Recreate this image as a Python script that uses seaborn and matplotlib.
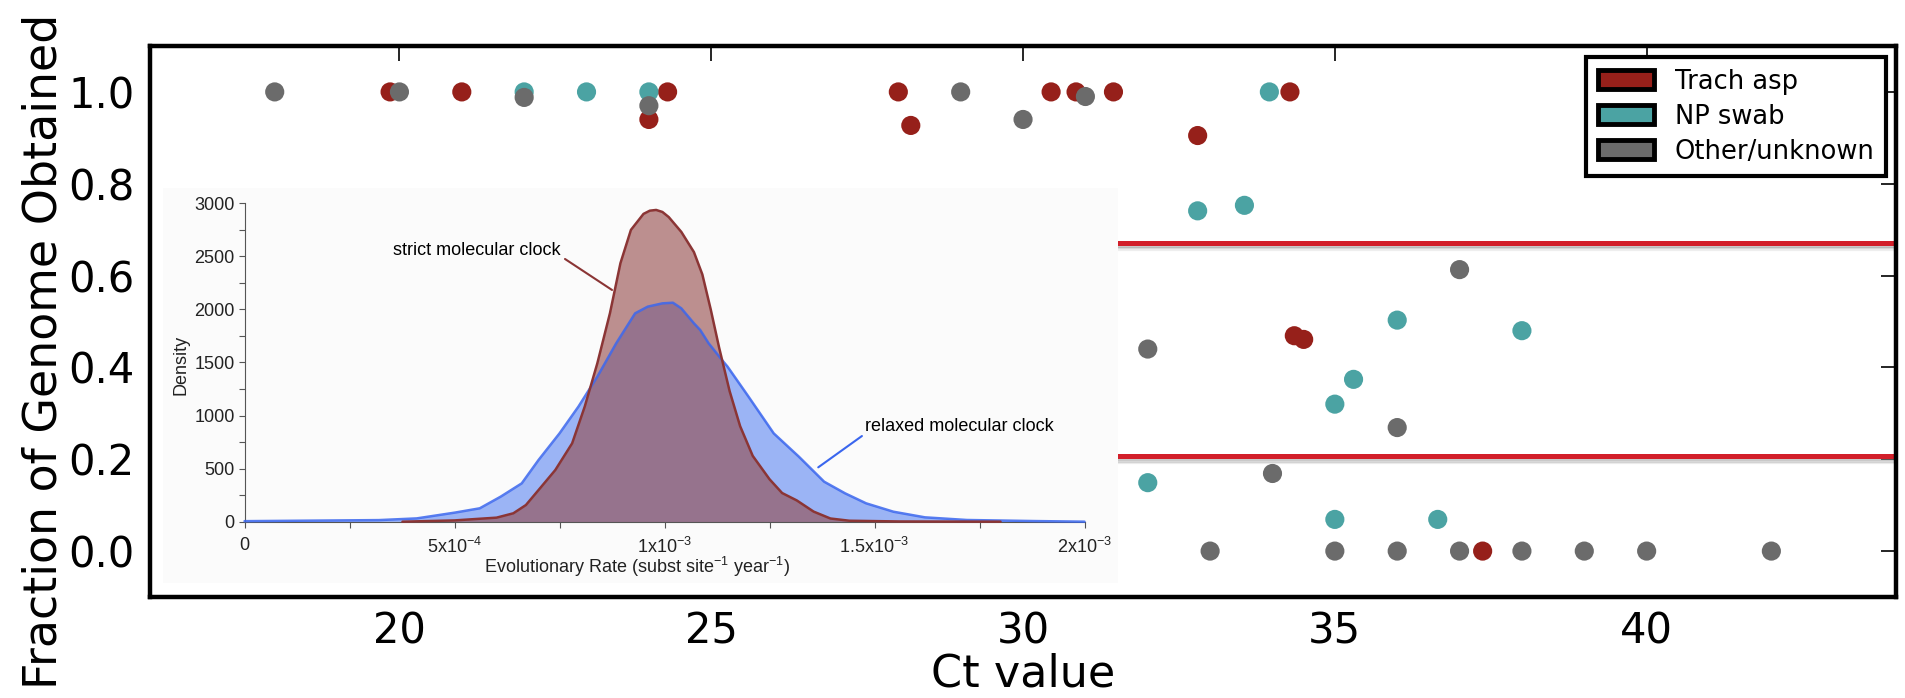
import numpy as np
import pandas as pd
import matplotlib
matplotlib.use("Agg")
import matplotlib.pyplot as plt
import seaborn as sns
from matplotlib.patches import Patch
from matplotlib.ticker import MultipleLocator

# main panel: fraction of genome obtained vs Ct value, by sample type
trach_ct = [19.85, 21.0, 24.3, 24.0, 28.0, 28.2, 30.45, 30.85, 31.45, 32.8, 34.28, 34.35, 34.5, 37.37]
trach_frac = [1.0, 1.0, 1.0, 0.94, 1.0, 0.927, 1.0, 1.0, 1.0, 0.905, 1.0, 0.469, 0.461, 0.0]

np_ct = [22.0, 23.0, 24.0, 33.95, 32.8, 33.55, 36.0, 38.0, 35.3, 35.0, 32.0, 35.0, 36.65]
np_frac = [1.0, 1.0, 1.0, 1.0, 0.741, 0.753, 0.503, 0.480, 0.374, 0.320, 0.149, 0.069, 0.069]

other_ct = [18.0, 20.0, 22.0, 24.0, 29.0, 30.0, 31.0, 37.0, 32.0, 36.0, 34.0,
            33.0, 35.0, 36.0, 37.0, 38.0, 39.0, 40.0, 42.0]
other_frac = [1.0, 1.0, 0.988, 0.97, 1.0, 0.94, 0.99, 0.613, 0.440, 0.269, 0.169,
              0.0, 0.0, 0.0, 0.0, 0.0, 0.0, 0.0, 0.0]

sources = ["Trach asp", "NP swab", "Other/unknown"]
source_colors = ["#96201A", "#4BA3A3", "#6B6B6B"]
cutoffs = [0.672, 0.208]

# inset: posterior density of evolutionary rate (rate in units of 1e-3)
strict_rate = [0.376, 0.50, 0.60, 0.64, 0.67, 0.70, 0.74, 0.78, 0.81, 0.84, 0.87, 0.895,
               0.92, 0.95, 0.965, 0.98, 0.995, 1.01, 1.04, 1.07, 1.09, 1.11, 1.13, 1.155,
               1.18, 1.21, 1.25, 1.28, 1.315, 1.355, 1.395, 1.44, 1.56, 1.80]
strict_density = [0, 12, 38, 79, 157, 298, 487, 738, 1084, 1492, 1963, 2435,
                  2749, 2900, 2930, 2937, 2918, 2870, 2730, 2540, 2330, 2000, 1640, 1230,
                  900, 620, 400, 270, 200, 95, 30, 9, 2, 0]

relaxed_rate = [0.0, 0.32, 0.41, 0.50, 0.56, 0.61, 0.66, 0.70, 0.75, 0.795, 0.84, 0.885,
                0.93, 0.96, 0.995, 1.02, 1.04, 1.07, 1.085, 1.105, 1.14, 1.15, 1.20, 1.26,
                1.32, 1.38, 1.43, 1.48, 1.545, 1.62, 1.72, 1.88, 2.0]
relaxed_density = [5, 15, 31, 85, 126, 236, 361, 581, 832, 1084, 1366, 1681,
                   1963, 2026, 2057, 2063, 2010, 1869, 1806, 1681, 1508, 1461, 1178, 832,
                   612, 377, 267, 173, 94, 41, 16, 6, 0]

rate_ticks = [0, 0.5, 1.0, 1.5, 2.0]
rate_labels = ["0", r"5x10$^{-4}$", r"1x10$^{-3}$", r"1.5x10$^{-3}$", r"2x10$^{-3}$"]

sns.set_style("white")
plt.rcParams["font.family"] = ["DejaVu Sans"]
plt.rcParams["text.color"] = "black"
plt.rcParams["axes.labelcolor"] = "black"
plt.rcParams["xtick.color"] = "black"
plt.rcParams["ytick.color"] = "black"
plt.rcParams["mathtext.fontset"] = "custom"
plt.rcParams["mathtext.rm"] = "Liberation Sans"
plt.rcParams["mathtext.it"] = "Liberation Sans:italic"

fig = plt.figure(figsize=(19.06, 6.98), dpi=100)
ax = fig.add_axes([0.0787, 0.1447, 0.9161, 0.7894])

df = pd.concat([
    pd.DataFrame({"ct": trach_ct, "frac": trach_frac, "source": sources[0]}),
    pd.DataFrame({"ct": np_ct, "frac": np_frac, "source": sources[1]}),
    pd.DataFrame({"ct": other_ct, "frac": other_frac, "source": sources[2]}),
], ignore_index=True)

sns.scatterplot(data=df, x="ct", y="frac", hue="source", hue_order=sources,
                palette=dict(zip(sources, source_colors)), s=190, linewidth=0,
                alpha=1, legend=False, ax=ax, zorder=3)

# cutoff lines with a soft shadow underneath
for k, a in enumerate([0.45, 0.28, 0.14]):
    ax.hlines([c - 0.009 - 0.004 * k for c in cutoffs], 31.5, 44, colors="#8c8c8c",
              lw=1.6, alpha=a, zorder=2)
ax.hlines(cutoffs, 31.5, 44, colors="#D21F2A", lw=3.6, zorder=2.5)

ax.set_xlim(16, 44)
ax.set_ylim(-0.1, 1.1)
ax.set_xticks([20, 25, 30, 35, 40])
ax.set_yticks([0.0, 0.2, 0.4, 0.6, 0.8, 1.0])
ax.tick_params(axis="both", direction="in", top=True, right=True, length=11,
               width=1.2, labelsize=30, colors="black")
ax.tick_params(axis="x", pad=10)
ax.tick_params(axis="y", pad=11)
for s in ax.spines.values():
    s.set_linewidth(3.2)
    s.set_color("black")
ax.set_xlabel("Ct value", fontsize=32)
ax.xaxis.set_label_coords(0.5, -0.100)
ax.set_ylabel("Fraction of Genome Obtained", fontsize=33)
ax.yaxis.set_label_coords(-0.048, 0.445)

handles = [Patch(facecolor=c, edgecolor="black", linewidth=3.5, label=l)
           for l, c in zip(sources, source_colors)]
leg = ax.legend(handles=handles, loc="upper right", bbox_to_anchor=(0.9943, 0.980),
                borderaxespad=0, fontsize=18.5, frameon=True, fancybox=False,
                edgecolor="black", framealpha=1, handlelength=2.2, handleheight=0.75,
                handletextpad=0.8, labelspacing=0.35, borderpad=0.45)
leg.get_frame().set_linewidth(3)
leg.set_zorder(5)

# inset panel background
bg = fig.add_axes([0.0855, 0.1648, 0.5010, 0.5659], zorder=3)
bg.set_facecolor("#FBFBFB")
bg.set_xticks([])
bg.set_yticks([])
for s in bg.spines.values():
    s.set_visible(False)

dax = fig.add_axes([0.1283, 0.2526, 0.4407, 0.4562], zorder=4)
dax.patch.set_alpha(0)
dax.fill_between(relaxed_rate, relaxed_density, color="#9BB4F5", lw=0, zorder=1)
dax.fill_between(strict_rate, strict_density, color=(147 / 255, 72 / 255, 72 / 255),
                 alpha=0.6, lw=0, zorder=2)
dax.plot(relaxed_rate, relaxed_density, color="#3A66EE", lw=1.8, alpha=0.85,
         zorder=3, clip_on=False)
dax.plot(strict_rate, strict_density, color="#8B3535", lw=1.8, zorder=4, clip_on=False)

dax.text(0.7536, 2551, "strict molecular clock", ha="right", va="center",
         fontsize=13, family="Liberation Sans")
dax.plot([0.763, 0.875], [2475, 2183], color="#8B3535", lw=1.5, zorder=5)
dax.text(1.477, 895, "relaxed molecular clock", ha="left", va="center",
         fontsize=13, family="Liberation Sans")
dax.plot([1.470, 1.366], [807, 512], color="#3A66EE", lw=1.5, zorder=5)

dax.set_xlim(0, 2.0)
dax.set_ylim(0, 3000)
dax.set_xticks(rate_ticks)
dax.set_xticklabels(rate_labels)
dax.set_yticks([0, 500, 1000, 1500, 2000, 2500, 3000])
dax.xaxis.set_minor_locator(MultipleLocator(0.25))
dax.yaxis.set_minor_locator(MultipleLocator(250))
dax.tick_params(which="both", direction="out", length=4, width=0.8, color="#555555",
                labelcolor="#222222", labelsize=13, bottom=True, left=True)
dax.tick_params(axis="x", pad=7)
dax.tick_params(axis="y", pad=3)
plt.setp(dax.get_xticklabels() + dax.get_yticklabels(), family="Liberation Sans")
for side in ["top", "right"]:
    dax.spines[side].set_visible(False)
for side in ["left", "bottom"]:
    dax.spines[side].set_color("#555555")
    dax.spines[side].set_linewidth(0.8)
dax.set_ylabel("Density", fontsize=13, family="Liberation Sans", color="#222222")
dax.yaxis.set_label_coords(-0.066, 0.492)
dax.set_xlabel(r"Evolutionary Rate (subst site$^{-1}$ year$^{-1}$)", fontsize=13,
               family="Liberation Sans", color="#222222")
dax.xaxis.set_label_coords(0.467, -0.105)

fig.savefig("out.png", dpi=100)
